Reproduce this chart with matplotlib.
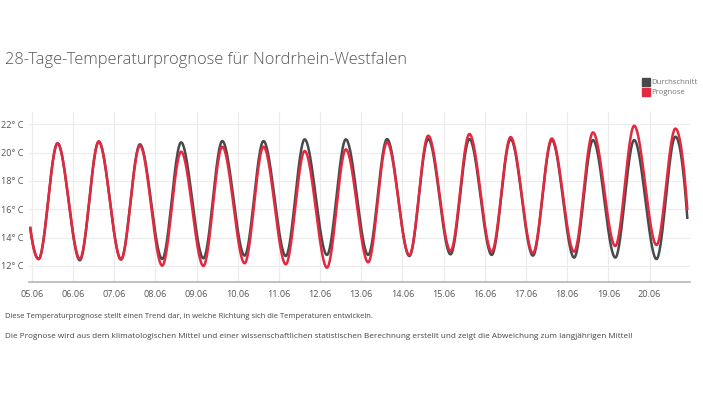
import numpy as np
import matplotlib
matplotlib.use("Agg")
import matplotlib.pyplot as plt
from matplotlib.patches import Rectangle

# ---------------- data ----------------
day_labels = ["05.06", "06.06", "07.06", "08.06", "09.06", "10.06", "11.06", "12.06",
              "13.06", "14.06", "15.06", "16.06", "17.06", "18.06", "19.06", "20.06"]
series_names = ["Durchschnitt", "Prognose"]

# hour of day of daily minimum / maximum
min_hour = 4
max_hour = 15
# first and last sample (hours relative to 05.06 00:00)
start_hour = -1
end_hour = 15 * 24 + 22

avg_start = 14.77
avg_min = [12.49, 12.40, 12.47, 12.49, 12.54, 12.73, 12.70, 12.78,
           12.78, 12.70, 12.82, 12.78, 12.73, 12.59, 12.59, 12.49]
avg_max = [20.66, 20.77, 20.59, 20.73, 20.82, 20.82, 20.94, 20.94,
           20.96, 20.96, 20.96, 20.96, 20.89, 20.89, 20.89, 21.13]
avg_end = 15.32

fc_start = 14.77
fc_min = [12.49, 12.49, 12.45, 12.02, 12.00, 12.19, 12.12, 11.88,
          12.26, 12.75, 13.06, 13.01, 12.90, 13.01, 13.41, 13.48]
fc_max = [20.66, 20.80, 20.50, 20.07, 20.42, 20.42, 20.12, 20.23,
          20.73, 21.20, 21.32, 21.10, 21.00, 21.43, 21.90, 21.70]
fc_end = 15.95

y_ticks = [12, 14, 16, 18, 20, 22]


def knots(start, mins, maxs, end):
    t = [start_hour]
    v = [start]
    for d in range(len(mins)):
        t += [d * 24 + min_hour, d * 24 + max_hour]
        v += [mins[d], maxs[d]]
    t.append(end_hour)
    v.append(end)
    return np.array(t, float), np.array(v, float)


def spline_line(t, v, n=40):
    """smooth 'spline' line shape through the knots (zero slope at extremes)"""
    m = np.zeros_like(v)
    m[0] = 2 * (v[1] - v[0]) / (t[1] - t[0])
    m[-1] = 2 * (v[-1] - v[-2]) / (t[-1] - t[-2])
    xs, ys = [], []
    for i in range(len(t) - 1):
        h = t[i + 1] - t[i]
        s = np.linspace(0, 1, n, endpoint=(i == len(t) - 2))
        h00 = 2 * s**3 - 3 * s**2 + 1
        h10 = s**3 - 2 * s**2 + s
        h01 = -2 * s**3 + 3 * s**2
        h11 = s**3 - s**2
        ys.append(h00 * v[i] + h10 * h * m[i] + h01 * v[i + 1] + h11 * h * m[i + 1])
        xs.append(t[i] + s * h)
    return np.concatenate(xs) / 24.0, np.concatenate(ys)


plt.rcParams['font.family'] = ['Open Sans', 'DejaVu Sans']

fig = plt.figure(figsize=(7.03, 3.96), dpi=100)
fig.patch.set_facecolor("white")
ax = fig.add_axes([0.0417, 0.2886, 0.9398, 0.4293])

gray = "#474a4b"
red = "#e4283f"

tx, ty = knots(avg_start, avg_min, avg_max, avg_end)
x1, y1 = spline_line(tx, ty)
tx, ty = knots(fc_start, fc_min, fc_max, fc_end)
x2, y2 = spline_line(tx, ty)
ax.plot(x1, y1, color=gray, lw=1.8, solid_capstyle="butt", zorder=3)
ax.plot(x2, y2, color=red, lw=1.8, solid_capstyle="butt", zorder=4)

ax.set_xlim(-0.06, 15.98)
ax.set_ylim(10.89, 22.89)
ax.set_xticks(range(len(day_labels)))
ax.set_xticklabels(day_labels)
ax.set_yticks(y_ticks)
ax.set_yticklabels([f"{v}° C" for v in y_ticks])
ax.grid(True, color="#ececec", lw=0.8)
ax.set_axisbelow(True)
for s in ["top", "right", "left"]:
    ax.spines[s].set_visible(False)
ax.spines["bottom"].set_color("#b5b5b5")
ax.spines["bottom"].set_linewidth(1.2)
ax.tick_params(axis="both", length=0, labelsize=6.6, labelcolor="#555555")
ax.tick_params(axis="x", pad=6)
ax.tick_params(axis="y", pad=4)

fig.text(5 / 703, 1 - 60 / 396, "28-Tage-Temperaturprognose für Nordrhein-Westfalen",
         fontsize=11.8, color="#555555", fontweight="light", va="center", ha="left")

# legend
for i, (name, col) in enumerate(zip(series_names, [gray, red])):
    yc = 82 + i * 10
    fig.patches.append(Rectangle((642 / 703, 1 - (yc + 4) / 396), 8 / 703, 8 / 396,
                                 transform=fig.transFigure, color=col, figure=fig))
    fig.text(651 / 703, 1 - yc / 396, name, fontsize=5.6, color="#777777",
             va="center", ha="left")

fig.text(5 / 703, 1 - 317 / 396,
         "Diese Temperaturprognose stellt einen Trend dar, in welche Richtung sich die Temperaturen entwickeln.",
         fontsize=5.5, color="#444444", va="center", ha="left")
fig.text(5 / 703, 1 - 336 / 396,
         "Die Prognose wird aus dem klimatologischen Mittel und einer wissenschaftlichen statistischen "
         "Berechnung erstellt und zeigt die Abweichung zum langjährigen Mittel!",
         fontsize=5.85, color="#444444", va="center", ha="left")

fig.savefig("out.png", dpi=100, facecolor="white")
